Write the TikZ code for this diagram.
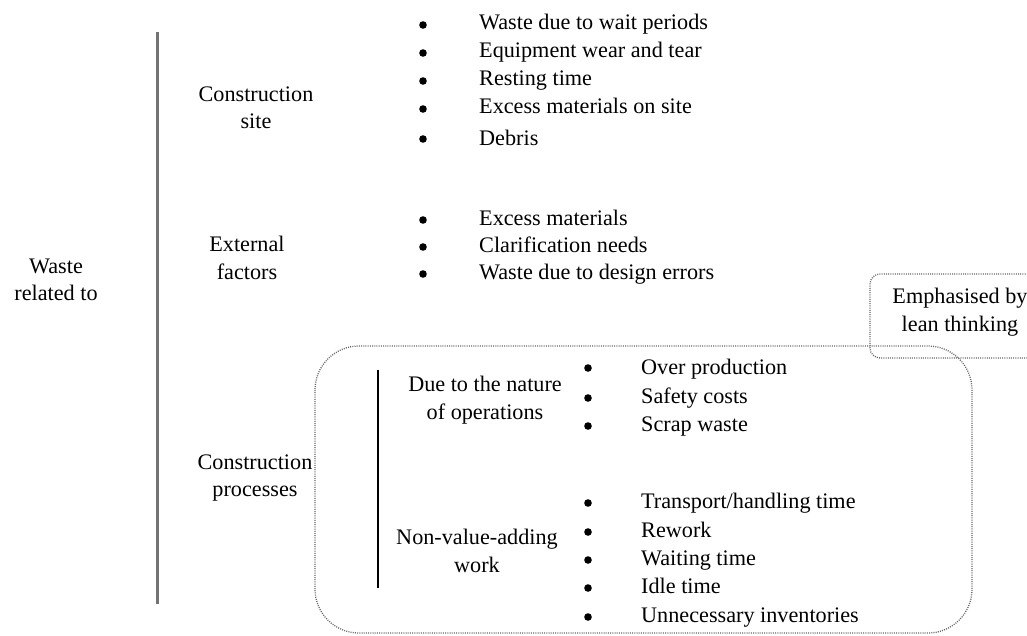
\documentclass[tikz,border=0pt]{standalone}
\usepackage{fontspec}
\setmainfont{Liberation Serif}
\newfontfamily\timesfont{Liberation Serif}
\begin{document}
\begin{tikzpicture}[x=1pt,y=-1pt,
  txt/.style={font=\timesfont\fontsize{22.2}{27.5}\selectfont, inner sep=0pt},
  item/.style={txt, anchor=base west},
  label/.style={txt, align=center, anchor=center},
  dotbul/.style={circle, fill=black, inner sep=0pt, minimum size=7.6pt},
  dotline/.style={draw=black!60, line width=1.3pt, dash pattern=on 1pt off 1.2pt},
]
\useasboundingbox (0,0) rectangle (1027,635);

% main grouping bar and the inner bar for the process subgroups
\coordinate (gtop) at (157,32);
\coordinate (gbot) at (157,604);
\draw[black!55, line width=3pt] (gtop) -- (gbot);
\coordinate (ptop) at (378,370);
\coordinate (pbot) at (378,588);
\draw[black, line width=1.3pt] (ptop) -- (pbot);

% region emphasised by lean thinking
\draw[dotline, rounded corners=44pt] (315,346) rectangle (972,633);
\draw[dotline, rounded corners=10pt] (1030,274) -- (870,274) -- (870,358) -- (1030,358);

% category labels
\node[label] (waste) at (56,280) {Waste\\related to};
\node[label] (csite) at (256,108) {Construction\\site};
\node[label] (ext)   at (247,258) {External\\factors};
\node[label] (cproc) at (255,478) {Construction\\processes};
\node[label] (nature) at (485,400) {Due to the nature\\of operations};
\node[label] (nva)   at (477,551) {Non-value-adding\\work};
\node[label] (emph)  at (960,312) {Emphasised by\\lean thinking};

% construction site items
\node[dotbul] (b11) at (423,25) {};
\node[dotbul] (b12) at (423,53) {};
\node[dotbul] (b13) at (423,81) {};
\node[dotbul] (b14) at (423,109) {};
\node[dotbul] (b15) at (423,139) {};
\node[item] (i11) at (479,29)  {Waste due to wait periods};
\node[item] (i12) at (479,57)  {Equipment wear and tear};
\node[item] (i13) at (479,85)  {Resting time};
\node[item] (i14) at (479,113) {Excess materials on site};
\node[item] (i15) at (479,145) {Debris};

% external factor items
\node[dotbul] (b21) at (423,220) {};
\node[dotbul] (b22) at (423,247) {};
\node[dotbul] (b23) at (423,274) {};
\node[item] (i21) at (479,225) {Excess materials};
\node[item] (i22) at (479,252) {Clarification needs};
\node[item] (i23) at (479,279) {Waste due to design errors};

% nature of operations items
\node[dotbul] (b31) at (588,368) {};
\node[dotbul] (b32) at (588,398) {};
\node[dotbul] (b33) at (588,426) {};
\node[item] (i31) at (641,374) {Over production};
\node[item] (i32) at (641,403) {Safety costs};
\node[item] (i33) at (641,431) {Scrap waste};

% non-value-adding work items
\node[dotbul] (b41) at (588,503) {};
\node[dotbul] (b42) at (588,532) {};
\node[dotbul] (b43) at (588,560) {};
\node[dotbul] (b44) at (588,588) {};
\node[dotbul] (b45) at (588,617) {};
\node[item] (i41) at (641,508) {Transport/handling time};
\node[item] (i42) at (641,537) {Rework};
\node[item] (i43) at (641,565) {Waiting time};
\node[item] (i44) at (641,593) {Idle time};
\node[item] (i45) at (641,622) {Unnecessary inventories};
\end{tikzpicture}
\end{document}
